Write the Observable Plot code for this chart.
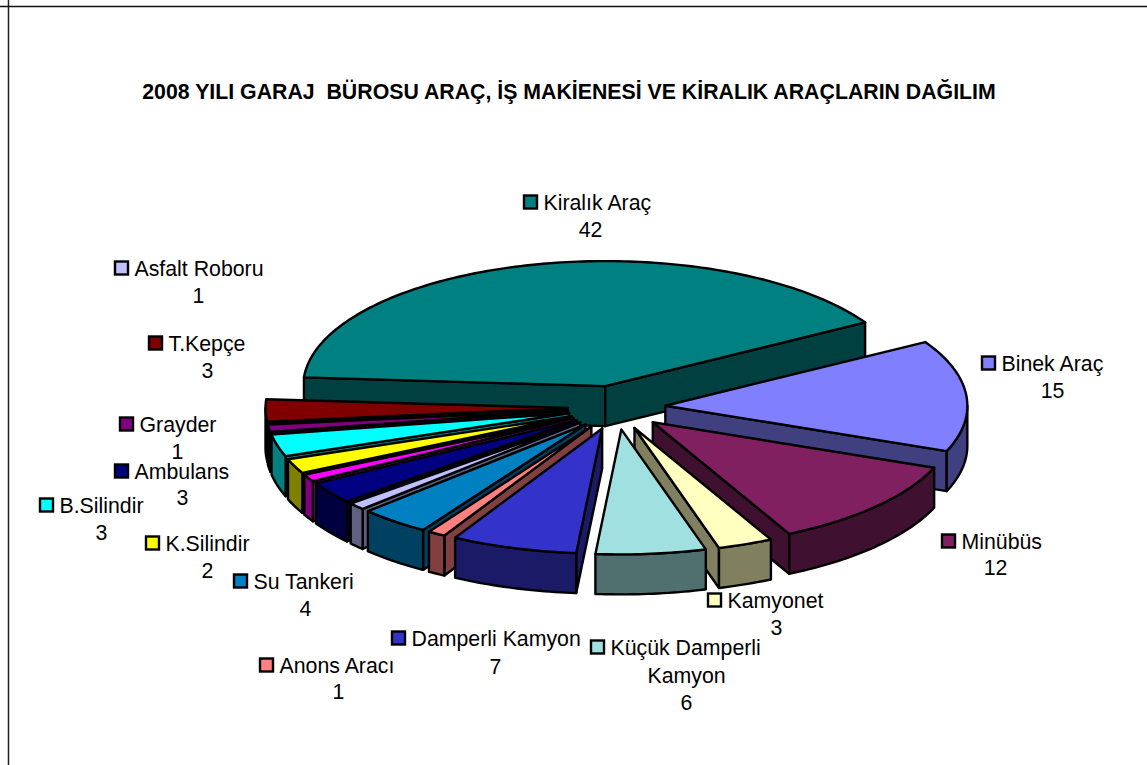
<!DOCTYPE html>
<html lang="tr">
<head>
<meta charset="utf-8">
<script src="https://cdn.jsdelivr.net/npm/d3@7"></script>
<script src="https://cdn.jsdelivr.net/npm/@observablehq/plot@0.6"></script>
<style>html,body{margin:0;padding:0;background:#fff;overflow:hidden}svg{display:block}</style>
</head>
<body>
<div id="chart"></div>
<script>
// ---- data (clockwise, starting at the large slice) ----
const chartTitle = "2008 YILI GARAJ  BÜROSU ARAÇ, İŞ MAKİENESİ VE KİRALIK ARAÇLARIN DAĞILIM";
const categories = ["Kiralık Araç","Binek Araç","Minübüs","Kamyonet","Küçük Damperli","Damperli Kamyon","Anons Aracı","Su Tankeri","Asfalt Roboru","Ambulans","","K.Silindir","B.Silindir","Grayder","T.Kepçe"];
const secondLines = {"Küçük Damperli":"Kamyon"};
const values = [42,15,12,3,6,7,1,4,1,3,1,2,3,1,3];
const topColors = ["#008080","#8080FF","#802060","#FFFFC0","#A0E0E0","#3333CC","#FF8080","#0080C0","#C0C0FF","#000080","#FF00FF","#FFFF00","#00FFFF","#800080","#800000"];
const sideColors = ["#004040","#404080","#401030","#808060","#507070","#1A1A66","#804040","#004060","#606080","#000040","#800080","#808000","#008080","#400040","#400000"];

// ---- layout ----
const W = 1147, H = 765;
const pie = {cx:616, cy:407, rx:302, ry:125, ex:49, ey:22, depth:40, start:176, nearWarp:1};
// label offsets from the pie centre: [name left, name mid-y, value centre-x, value top-y]
const labelOffsets = {
  "Kiralık Araç":[-73,-204,-26,-190],
  "Binek Araç":[385,-43,436,-29],
  "Minübüs":[345,135,379,148],
  "Kamyonet":[111,194,160,208],
  "Küçük Damperli":[-6,241,70,256],
  "Damperli Kamyon":[-205,232,-121,247],
  "Anons Aracı":[-337,259,-278,272],
  "Su Tankeri":[-363,175,-311,189],
  "Asfalt Roboru":[-482,-138,-418,-124],
  "Ambulans":[-482,65,-434,78],
  "K.Silindir":[-451,137,-409,151],
  "B.Silindir":[-557,99,-515,113],
  "Grayder":[-477,18,-439,32],
  "T.Kepçe":[-448,-63,-409,-49]
};
const swatch = {gap:19, size:13};
const lineStep = 27, fontSize = 21.3;

// ---- geometry derived from the values ----
const total = d3.sum(values);
const rad = d => d * Math.PI / 180;
// the original's perspective stretches the nearest part of the pie slightly
const warp = a => a - pie.nearWarp * Math.pow(Math.max(0, Math.cos(rad(a + 105))), 4);
let cursor = pie.start;
const slices = categories.map((name,i) => {
  const raw0 = cursor, raw1 = cursor - values[i] / total * 360;
  cursor = raw1;
  const a0 = warp(raw0), a1 = warp(raw1);
  const mid = (a0 + a1) / 2;
  const ax = pie.cx + pie.ex * Math.cos(rad(mid));
  const ay = pie.cy - pie.ey * Math.sin(rad(mid));
  return {name, i, a0, a1, mid, ax, ay};
});
const rim = (s,a,drop=0) => ({x:s.ax + pie.rx*Math.cos(rad(a)), y:s.ay - pie.ry*Math.sin(rad(a)) + drop});
const arc = (s,from,to,drop=0) => {
  const n = Math.max(2, Math.ceil(Math.abs(from-to)));
  return d3.range(n+1).map(k => rim(s, from + (to-from)*k/n, drop));
};
const radialVisible = (s,a) => {
  const dx = pie.rx*Math.cos(rad(a)), dy = pie.ry*Math.sin(rad(a));
  const mx = pie.rx*Math.cos(rad(s.mid)), my = pie.ry*Math.sin(rad(s.mid));
  const cross = dx*my - dy*mx;
  return dx >= 0 ? cross > 0 : cross < 0;
};
const polys = [];
slices.slice().sort((p,q) => Math.sin(rad(q.mid)) - Math.sin(rad(p.mid))).forEach(s => {
  const apex = {x:s.ax, y:s.ay}, apexLow = {x:s.ax, y:s.ay + pie.depth};
  for (const a of [s.a0, s.a1]) {
    if (radialVisible(s,a)) polys.push({color:sideColors[s.i], pts:[apex, rim(s,a), rim(s,a,pie.depth), apexLow]});
  }
  // outer wall: only the part of the rim on the near half
  const lo = [];
  for (let a = Math.ceil(s.a1); a <= s.a0; a++) if (Math.sin(rad(a)) <= 0) lo.push(a);
  const ends = [s.a1, s.a0].filter(a => Math.sin(rad(a)) <= 0);
  const angles = Array.from(new Set([...ends, ...lo])).sort((p,q) => p-q);
  if (angles.length > 1) {
    const upper = angles.map(a => rim(s,a));
    const lower = angles.slice().reverse().map(a => rim(s,a,pie.depth));
    polys.push({color:sideColors[s.i], pts:[...upper, ...lower]});
  }
  polys.push({color:topColors[s.i], pts:[apex, ...arc(s,s.a0,s.a1)]});
});

const labelled = slices.filter(s => s.name).map(s => {
  const o = labelOffsets[s.name];
  return {
    name:s.name, color:topColors[s.i],
    nameX:pie.cx + o[0], nameY:pie.cy + o[1],
    valueX:pie.cx + o[2], valueY:pie.cy + o[3],
    value:(secondLines[s.name] ? secondLines[s.name] + "\n" : "") + values[s.i]
  };
});

const fontFamily = "'Liberation Sans', Arial, sans-serif";
const chart = Plot.plot({
  width:W, height:H,
  margin:0,
  style:{background:"#fff", fontFamily},
  x:{domain:[0,W], range:[0,W], axis:null},
  y:{domain:[0,H], range:[0,H], axis:null},
  marks:[
    Plot.ruleX([8], {stroke:"#222", strokeWidth:1.5}),
    Plot.ruleY([6], {stroke:"#111", strokeWidth:1.5}),
    Plot.text([chartTitle], {x:568.5, y:92, text:d => d, fontSize:21.3, fontWeight:"bold", fill:"#000"}),
    ...polys.map(p => Plot.line(p.pts, {x:"x", y:"y", curve:"linear-closed", fill:p.color, stroke:"#000", strokeWidth:2.4, strokeLinejoin:"round"})),
    Plot.rect(labelled, {
      x1:d => d.nameX - swatch.gap, x2:d => d.nameX - swatch.gap + swatch.size,
      y1:d => d.nameY - swatch.size/2 - 1, y2:d => d.nameY + swatch.size/2 - 1,
      fill:"color", stroke:"#000", strokeWidth:2.4
    }),
    Plot.text(labelled, {x:"nameX", y:"nameY", text:"name", textAnchor:"start", fontSize, fill:"#000"}),
    Plot.text(labelled, {x:"valueX", y:"valueY", text:"value", textAnchor:"middle", lineAnchor:"top", lineHeight:lineStep/fontSize, fontSize, fill:"#000"})
  ]
});
document.getElementById("chart").append(chart);
</script>
</body>
</html>
